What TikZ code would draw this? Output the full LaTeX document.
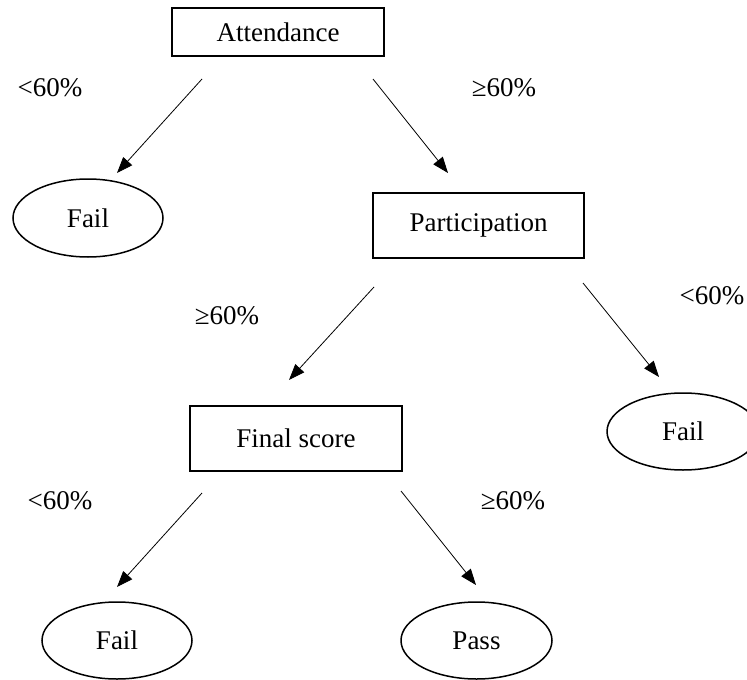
\documentclass[tikz,border=0pt]{standalone}
\usepackage{fontspec}
\setmainfont{Liberation Serif}
\usetikzlibrary{shapes.geometric,arrows.meta}
\begin{document}
\begin{tikzpicture}[x=1pt,y=-1pt,
  every node/.style={font=\fontsize{27}{31}\selectfont},
  boxnode/.style={draw,line width=1.8pt,minimum width=212pt,inner sep=0pt},
  leafnode/.style={draw,ellipse,line width=1.5pt,minimum width=150pt,minimum height=78pt,inner sep=0pt},
  lbl/.style={inner sep=0pt},
  arr/.style={line width=0.8pt,-{Triangle[length=16pt,width=12pt]}}]
\useasboundingbox (0,0) rectangle (747,680);
\clip (0,0) rectangle (747,680);
\node[boxnode,minimum height=48pt] (att) at (278,32) {Attendance};
\node[leafnode] (fail1) at (88,218) {Fail};
\node[boxnode,minimum height=65pt,minimum width=211pt] (part) at (478.5,225.5) {Participation};
\node[leafnode,minimum width=152pt,minimum height=77pt] (fail2) at (683,431.5) {Fail};
\node[boxnode,minimum height=65pt] (final) at (296,438.5) {Final score};
\node[leafnode,minimum height=77pt] (fail3) at (117,640.5) {Fail};
\node[leafnode,minimum height=77pt,minimum width=151pt] (pass) at (476.5,640.5) {Pass};

\node[lbl] (l1) at (50,88) {<60\%};
\node[lbl] (l2) at (504,88) {≥60\%};
\node[lbl] (l3) at (227,316) {≥60\%};
\node[lbl] (l4) at (712,296) {<60\%};
\node[lbl] (l5) at (60,501) {<60\%};
\node[lbl] (l6) at (513,501) {≥60\%};

\coordinate (a1s) at (202,79);  \coordinate (a1e) at (117,173);
\coordinate (a2s) at (373,79);  \coordinate (a2e) at (448,173);
\coordinate (a3s) at (374,287); \coordinate (a3e) at (289,380);
\coordinate (a4s) at (583,283); \coordinate (a4e) at (659,377);
\coordinate (a5s) at (202,493); \coordinate (a5e) at (117,587);
\coordinate (a6s) at (401,491); \coordinate (a6e) at (476,585);
\draw[arr] (a1s) -- (a1e);
\draw[arr] (a2s) -- (a2e);
\draw[arr] (a3s) -- (a3e);
\draw[arr] (a4s) -- (a4e);
\draw[arr] (a5s) -- (a5e);
\draw[arr] (a6s) -- (a6e);
\end{tikzpicture}
\end{document}
